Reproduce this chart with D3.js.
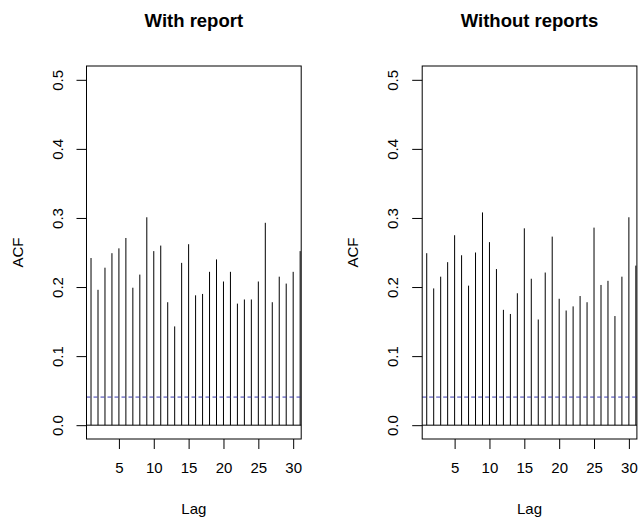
<!DOCTYPE html>
<html>
<head>
<meta charset="utf-8">
<script src="https://cdn.jsdelivr.net/npm/d3@7"></script>
<style>
  body { margin: 0; background: #fff; }
  text { font-family: "Liberation Sans", Arial, sans-serif; fill: #000; }
</style>
</head>
<body>
<div id="chart"></div>
<script>
// ACF values, lags 1..31
var lags = d3.range(1, 32);
var withReport = [0.242, 0.196, 0.228, 0.249, 0.256, 0.271, 0.199, 0.218, 0.301, 0.252,
                  0.260, 0.178, 0.143, 0.235, 0.262, 0.188, 0.190, 0.222, 0.240, 0.208,
                  0.222, 0.176, 0.182, 0.182, 0.208, 0.293, 0.178, 0.215, 0.205, 0.222, 0.252];
var withoutReports = [0.249, 0.198, 0.215, 0.236, 0.275, 0.246, 0.202, 0.250, 0.308, 0.265,
                      0.226, 0.167, 0.161, 0.191, 0.285, 0.212, 0.153, 0.221, 0.273, 0.183,
                      0.166, 0.172, 0.187, 0.178, 0.286, 0.203, 0.209, 0.158, 0.215, 0.301, 0.231];
var ciLevel = 0.0407;
var titles = ["With report", "Without reports"];
var xTicks = [5, 10, 15, 20, 25, 30];
var yTicks = [0, 0.1, 0.2, 0.3, 0.4, 0.5];

var W = 641, H = 522;
var svg = d3.select("#chart").append("svg")
    .attr("width", W)
    .attr("height", H);

function acfPanel(left, title, values) {
    var top = 66, bottom = 439, boxW = 214.7;

    var x = d3.scaleLinear().domain([0.35, 31.15]).range([left, left + boxW]);
    var y = d3.scaleLinear().domain([-0.02, 0.52]).range([bottom, top]);

    var g = svg.append("g");

    // spikes
    g.selectAll(".spike")
        .data(lags)
        .enter().append("line")
        .attr("class", "spike")
        .attr("x1", function(d) { return x(d); })
        .attr("x2", function(d) { return x(d); })
        .attr("y1", y(0))
        .attr("y2", function(d, i) { return y(values[i]); })
        .attr("stroke", "#000")
        .attr("stroke-width", 1);

    // zero line
    g.append("line")
        .attr("x1", left).attr("x2", left + boxW)
        .attr("y1", y(0)).attr("y2", y(0))
        .attr("stroke", "#000");

    // confidence bound
    g.append("line")
        .attr("x1", left).attr("x2", left + boxW)
        .attr("y1", y(ciLevel)).attr("y2", y(ciLevel))
        .attr("stroke", "#3a3ab0")
        .attr("stroke-width", 1)
        .attr("stroke-dasharray", "4,3");

    // box
    g.append("rect")
        .attr("x", left).attr("y", top)
        .attr("width", boxW).attr("height", bottom - top)
        .attr("fill", "none")
        .attr("stroke", "#000");

    // x axis
    var xAxis = d3.axisBottom(x).tickValues(xTicks).tickSize(10).tickPadding(24)
        .tickFormat(d3.format("d"));
    var gx = g.append("g")
        .attr("transform", "translate(0," + bottom + ")")
        .call(xAxis);
    gx.select(".domain").remove();
    gx.selectAll("text").attr("font-size", "15px").attr("dy", 0)
        .style("font-family", "'Liberation Sans', Arial, sans-serif");

    // y axis, labels parallel to the axis like base R
    var yAxis = d3.axisLeft(y).tickValues(yTicks).tickSize(10).tickFormat(d3.format(".1f"));
    var gy = g.append("g")
        .attr("transform", "translate(" + left + ",0)")
        .call(yAxis);
    gy.select(".domain").remove();
    gy.selectAll("text")
        .attr("x", null).attr("dy", null)
        .attr("font-size", "15px")
        .attr("text-anchor", "middle")
        .attr("transform", "translate(-24,0) rotate(-90)")
        .style("font-family", "'Liberation Sans', Arial, sans-serif");

    // titles and labels
    g.append("text")
        .attr("x", left + boxW / 2)
        .attr("y", 27)
        .attr("text-anchor", "middle")
        .attr("font-size", "18.5px")
        .attr("font-weight", "bold")
        .text(title);

    g.append("text")
        .attr("x", left + boxW / 2)
        .attr("y", 514)
        .attr("text-anchor", "middle")
        .attr("font-size", "15px")
        .text("Lag");

    g.append("text")
        .attr("transform", "translate(" + (left - 64) + "," + ((top + bottom) / 2) + ") rotate(-90)")
        .attr("text-anchor", "middle")
        .attr("font-size", "15px")
        .text("ACF");
}

acfPanel(86.5, titles[0], withReport);
acfPanel(422.2, titles[1], withoutReports);
</script>
</body>
</html>
